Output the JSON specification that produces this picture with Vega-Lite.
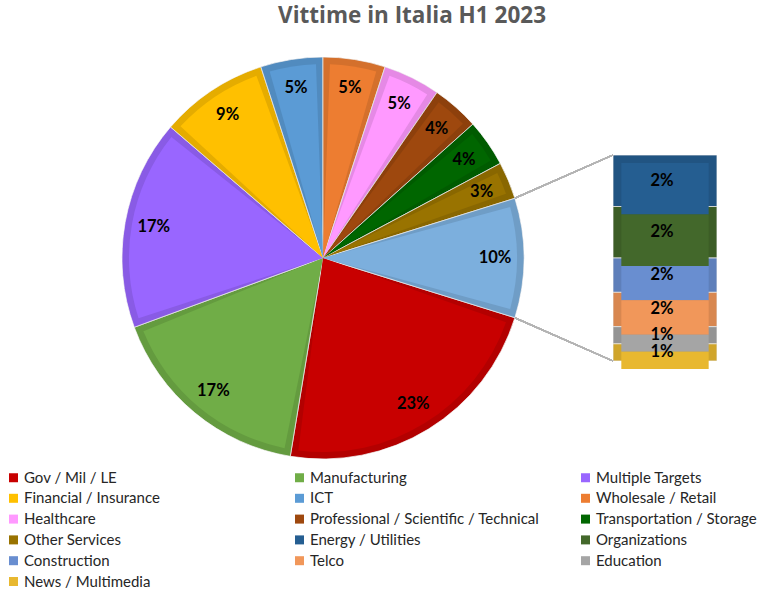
{
  "$schema": "https://vega.github.io/schema/vega-lite/v6.json",
  "width": 760,
  "height": 436,
  "autosize": {"type": "none"},
  "padding": {"left": 0, "top": 40, "right": 0, "bottom": 116},
  "background": "white",
  "title": {"text": "Vittime in Italia H1 2023", "font": "Open Sans", "fontSize": 22.5, "fontWeight": "bold", "color": "#595959", "anchor": "middle", "dx": 32, "offset": 13},
  "config": {
    "view": {"stroke": null},
    "legend": {
      "orient": "none", "legendX": 6, "legendY": 430, "columns": 3, "direction": "horizontal", "gridAlign": "all",
      "columnPadding": 38, "rowPadding": 4.8, "symbolType": "square", "symbolSize": 81,
      "symbolStrokeWidth": 0, "labelFont": "Lato", "labelFontSize": 15, "labelColor": "#262626",
      "labelOffset": 3, "labelLimit": 400
    }
  },
  "data": {"values": [
    {"cat": "Gov / Mil / LE", "share": 0.228, "part": "Pie", "n": 1},
    {"cat": "Manufacturing", "share": 0.168, "part": "Pie", "n": 2},
    {"cat": "Multiple Targets", "share": 0.169, "part": "Pie", "n": 3},
    {"cat": "Financial / Insurance", "share": 0.087, "part": "Pie", "n": 4},
    {"cat": "ICT", "share": 0.050, "part": "Pie", "n": 5},
    {"cat": "Wholesale / Retail", "share": 0.050, "part": "Pie", "n": 6},
    {"cat": "Healthcare", "share": 0.046, "part": "Pie", "n": 7},
    {"cat": "Professional / Scientific / Technical", "share": 0.038, "part": "Pie", "n": 8},
    {"cat": "Transportation / Storage", "share": 0.038, "part": "Pie", "n": 9},
    {"cat": "Other Services", "share": 0.030, "part": "Pie", "n": 10},
    {"cat": "Altro", "share": 0.096, "part": "Pie", "n": 17},
    {"cat": "Energy / Utilities", "share": 0.024, "part": "Bar", "n": 11},
    {"cat": "Organizations", "share": 0.024, "part": "Bar", "n": 12},
    {"cat": "Construction", "share": 0.016, "part": "Bar", "n": 13},
    {"cat": "Telco", "share": 0.016, "part": "Bar", "n": 14},
    {"cat": "Education", "share": 0.008, "part": "Bar", "n": 15},
    {"cat": "News / Multimedia", "share": 0.008, "part": "Bar", "n": 16}
  ]},
  "layer": [
    {
      "transform": [{"filter": "datum.part === 'Pie'"}],
      "mark": {"type": "arc", "outerRadius": 201, "stroke": "white", "strokeWidth": 0.8},
      "encoding": {
        "x": {"field": "part", "type": "nominal", "axis": null,
              "scale": {"type": "band", "domain": ["Pie", "Bar"], "paddingInner": 0.696, "paddingOuter": 0.459, "align": 0.863}},
        "theta": {"field": "share", "type": "quantitative", "stack": true, "scale": {"domain": [0, 1], "range": [1.87239, 8.15558]}},
        "order": {"field": "n", "type": "quantitative"},
        "color": {"field": "cat", "type": "nominal", "legend": {"title": null},
                  "scale": {"domain": ["Gov / Mil / LE", "Manufacturing", "Multiple Targets", "Financial / Insurance", "ICT", "Wholesale / Retail", "Healthcare", "Professional / Scientific / Technical", "Transportation / Storage", "Other Services", "Energy / Utilities", "Organizations", "Construction", "Telco", "Education", "News / Multimedia"],
                            "range": ["#C80000", "#70AD47", "#9966FF", "#FFC000", "#5B9BD5", "#ED7D31", "#FF99FF", "#9E480E", "#006600", "#997300", "#255E91", "#43682B", "#698ED0", "#F1975A", "#A5A5A5", "#E8B830"]},
                  "condition": {"test": "datum.cat === 'Altro'", "value": "#7CAFDD"}}
      }
    },
    {
      "transform": [{"filter": "datum.part === 'Pie'"}],
      "mark": {"type": "arc", "outerRadius": 201, "color": "black", "opacity": 0.1},
      "encoding": {
        "x": {"field": "part", "type": "nominal"},
        "theta": {"field": "share", "type": "quantitative", "stack": true},
        "order": {"field": "n", "type": "quantitative"},
        "detail": {"field": "cat", "type": "nominal"}
      }
    },
    {
      "transform": [{"filter": "datum.part === 'Pie'"}],
      "mark": {"type": "arc", "outerRadius": 194, "padAngle": 0.072},
      "encoding": {
        "x": {"field": "part", "type": "nominal"},
        "theta": {"field": "share", "type": "quantitative", "stack": true},
        "order": {"field": "n", "type": "quantitative"},
        "color": {"field": "cat", "type": "nominal", "condition": {"test": "datum.cat === 'Altro'", "value": "#7CAFDD"}}
      }
    },
    {
      "transform": [{"filter": "datum.part === 'Pie'"}],
      "mark": {"type": "text", "radius": 172, "font": "Lato", "fontSize": 16.5, "fontWeight": "bold", "color": "black"},
      "encoding": {
        "x": {"field": "part", "type": "nominal"},
        "theta": {"field": "share", "type": "quantitative", "stack": true},
        "order": {"field": "n", "type": "quantitative"},
        "detail": {"field": "cat", "type": "nominal"},
        "text": {"field": "share", "type": "quantitative", "format": ".0%"}
      }
    },
    {
      "transform": [{"filter": "datum.part === 'Bar'"}],
      "mark": {"type": "bar", "stroke": "white", "strokeWidth": 0.8},
      "encoding": {
        "x": {"field": "part", "type": "nominal"},
        "y": {"field": "share", "type": "quantitative", "stack": "zero", "axis": null,
              "scale": {"domain": [-0.0536, 0.1496], "nice": false, "zero": false}},
        "order": {"field": "n", "type": "quantitative", "sort": "descending"},
        "color": {"field": "cat", "type": "nominal"}
      }
    },
    {
      "transform": [{"filter": "datum.part === 'Bar'"}],
      "mark": {"type": "bar", "color": "black", "opacity": 0.1},
      "encoding": {
        "x": {"field": "part", "type": "nominal"},
        "y": {"field": "share", "type": "quantitative", "stack": "zero"},
        "order": {"field": "n", "type": "quantitative", "sort": "descending"},
        "detail": {"field": "cat", "type": "nominal"}
      }
    },
    {
      "transform": [{"filter": "datum.part === 'Bar'"}],
      "mark": {"type": "bar", "width": {"band": 0.84}, "yOffset": 8, "y2Offset": -8},
      "encoding": {
        "x": {"field": "part", "type": "nominal"},
        "y": {"field": "share", "type": "quantitative", "stack": "zero"},
        "order": {"field": "n", "type": "quantitative", "sort": "descending"},
        "color": {"field": "cat", "type": "nominal"}
      }
    },
    {
      "transform": [{"filter": "datum.part === 'Bar'"}],
      "mark": {"type": "text", "font": "Lato", "fontSize": 16.5, "fontWeight": "bold", "color": "black", "dx": -3},
      "encoding": {
        "x": {"field": "part", "type": "nominal"},
        "y": {"field": "share", "type": "quantitative", "stack": "zero", "bandPosition": 0.5},
        "order": {"field": "n", "type": "quantitative", "sort": "descending"},
        "detail": {"field": "cat", "type": "nominal"},
        "text": {"field": "share", "type": "quantitative", "format": ".0%"}
      }
    },
    {
      "mark": {"type": "rule", "color": "#B4B4B4", "strokeWidth": 1.2, "xOffset": 192, "x2Offset": -52},
      "encoding": {
        "x": {"datum": "Pie", "type": "nominal"},
        "x2": {"datum": "Bar"},
        "y": {"datum": 0.0759, "type": "quantitative"},
        "y2": {"datum": 0.096}
      }
    },
    {
      "mark": {"type": "rule", "color": "#B4B4B4", "strokeWidth": 1.2, "xOffset": 192, "x2Offset": -52},
      "encoding": {
        "x": {"datum": "Pie", "type": "nominal"},
        "x2": {"datum": "Bar"},
        "y": {"datum": 0.0201, "type": "quantitative"},
        "y2": {"datum": 0}
      }
    }
  ]
}
